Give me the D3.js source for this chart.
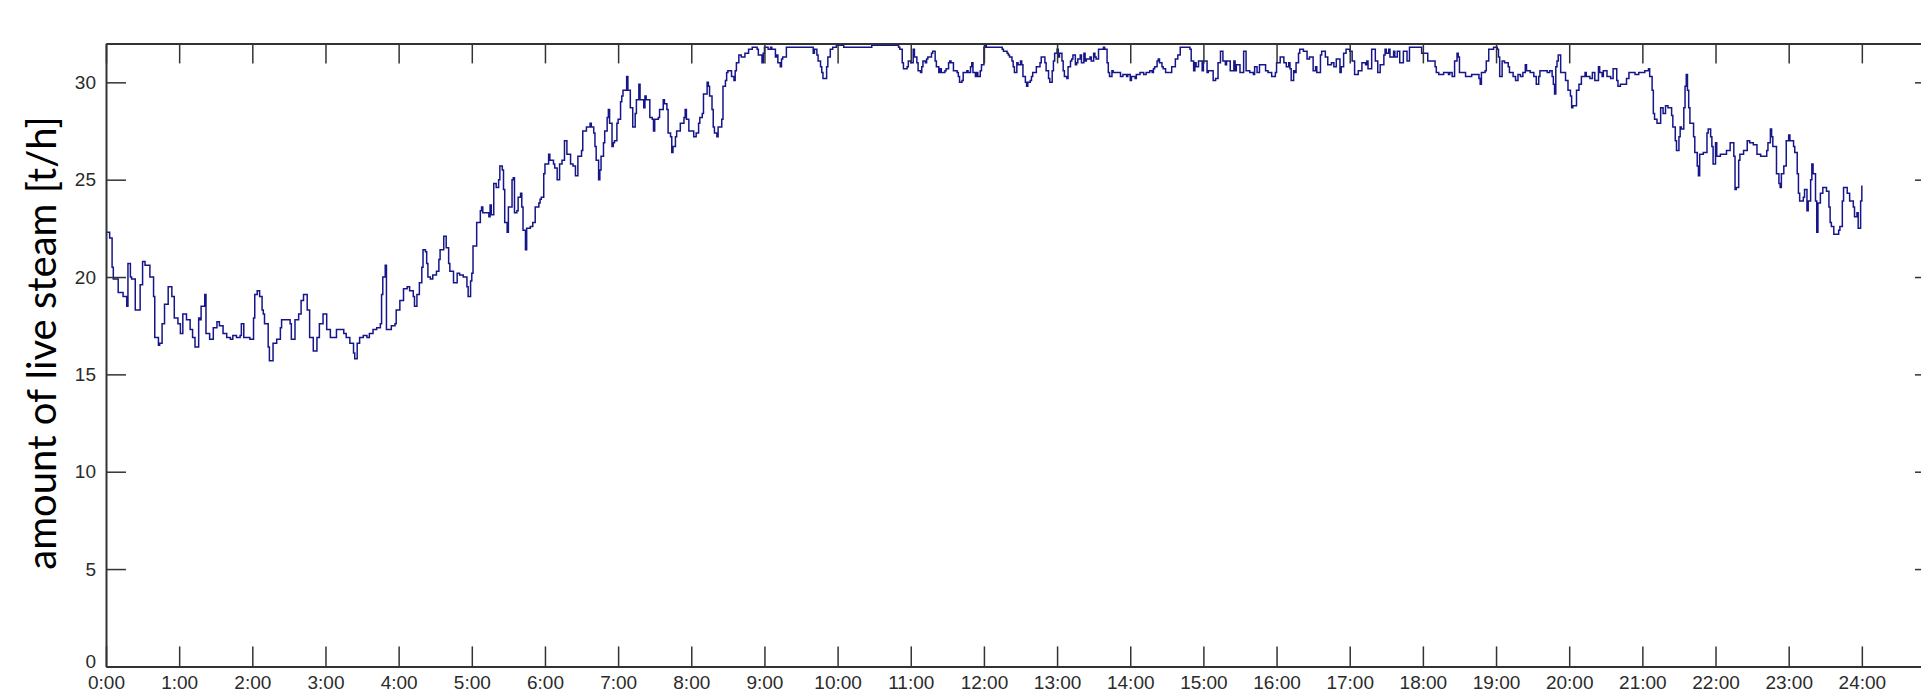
<!DOCTYPE html>
<html>
<head>
<meta charset="utf-8">
<script src="https://cdn.jsdelivr.net/npm/d3@7"></script>
<style>
  html, body { margin: 0; padding: 0; background: #fff; overflow: hidden; }
  svg { display: block; }
  .tick text { font-family: "Liberation Sans", Arial, sans-serif; font-size: 19px; fill: #2a2a2a; }
  .ylabel { font-family: Lato, "Open Sans", sans-serif; font-size: 40px; fill: #000; }
</style>
</head>
<body>
<svg id="chart" width="1921" height="693"></svg>
<script>
// Time of day in minutes after midnight
const minutes = [
  0,1,3,5,6,9,10,14,17,18,20,21,24,25,28,30,32,35,36,39,40,43,44,46,48,51,54,56,59,61,63,66,69,71,73,76,77,78,81,82,85,88,91,93,96,99,
  102,104,107,110,111,113,115,118,121,122,124,126,128,129,130,133,134,137,140,143,144,148,151,152,155,158,160,162,165,167,170,173,175,178,
  181,184,186,189,192,195,197,200,203,204,206,208,211,214,216,219,222,225,226,227,229,230,232,234,237,238,241,244,247,249,252,253,255,257,
  259,260,262,263,264,266,268,271,273,274,277,279,281,282,285,288,
  290,293,296,297,299,300,301,303,304,307,308,309,312,314,315,316,318,320,322,323,325,326,327,329,330,333,334,335,337,338,340,341,342,344,
  345,348,350,352,355,356,357,359,360,363,364,367,368,370,372,374,376,378,381,383,385,387,390,391,394,397,398,400,401,402,404,405,406,408,
  409,411,412,413,415,416,417,419,420,422,423,424,427,428,430,432,434,435,437,438,441,442,443,446,448,449,450,453,454,457,458,460,461,463,
  464,465,467,468,471,474,475,476,478,480,482,484,486,487,489,490,493,494,495,497,498,499,501,502,505,506,508,509,510,513,515,516,517,519,
  521,524,527,530,534,535,538,539,540,543,545,546,549,550,551,553,554,555,558,576,
  580,581,583,584,586,587,588,590,591,592,594,596,599,605,627,628,648,650,651,653,654,657,658,660,662,663,665,666,668,669,670,672,673,674,
  677,678,680,681,683,684,685,688,689,691,692,693,695,698,699,700,702,703,706,707,709,710,711,713,714,715,717,718,720,721,722,733,735,736,
  739,740,741,743,744,745,747,748,750,751,752,754,755,756,758,759,760,763,766,767,769,770,771,773,774,776,777,778,780,781,782,784,785,786,
  788,789,791,792,793,795,796,797,799,800,802,803,804,807,808,810,811,812,814,815,818,819,821,822,823,825,826,827,829,830,832,834,837,838,
  840,841,844,845,848,851,853,855,856,858,859,860,862,863,864,866,867,869,871,
  874,877,879,881,886,889,890,892,893,894,896,899,900,903,904,908,910,912,914,916,918,919,922,925,926,927,930,933,935,938,941,942,944,946,
  951,953,956,959,960,963,966,968,970,971,972,974,975,976,978,979,982,985,987,990,992,993,996,997,1000,1002,1005,1007,1009,1012,1013,1015,
  1017,1019,1020,1022,1024,1027,1030,1033,1034,1035,1038,1041,1043,1045,1048,1049,1050,1052,1053,1056,1057,1059,1061,1064,1067,1069,1076,
  1079,1082,1084,1087,1090,1091,1093,1097,1101,1102,1104,1106,1108,1109,1110,1115,1120,1126,1127,1128,1131,1132,1134,1138,1141,1142,1143,
  1145,1147,1150,1151,1154,1156,1158,1160,1162,1164,
  1165,1168,1171,1173,1175,1176,1179,1182,1184,1186,1187,1188,1189,1190,1191,1193,1194,1197,1199,1201,1202,1203,1206,1208,1210,1213,1214,
  1217,1219,1221,1224,1225,1227,1228,1231,1234,1236,1239,1240,1242,1244,1247,1249,1251,1254,1257,1260,1262,1265,1266,1268,1269,1270,1272,
  1275,1277,1279,1281,1284,1285,1287,1288,1290,1291,1292,1294,1295,1296,1297,1298,1299,1302,1303,1305,1306,1307,1310,1313,1314,1316,1317,
  1318,1320,1321,1324,1329,1332,1335,1336,1337,1339,1340,1343,1346,1348,1351,1354,1357,1359,1362,1363,1365,1366,1367,1370,1372,1373,1374,
  1376,1378,1380,1381,1384,1385,1387,1388,1389,1392,1393,1395,1396,1398,1399,1400,1402,1403,1404,1406,1408,1411,1413,1414,1415,1417,1421,
  1422,1424,1425,1428,1430,1433,1434,1436,1437,1439,1440
];

// Live steam flow [t/h] at each time above
const steam = [
  22.3,22.3,22.0,20.5,19.9,19.9,19.2,19.0,18.5,20.7,20.0,19.9,18.3,18.3,19.6,20.8,20.6,20.6,20.0,19.0,16.9,16.5,16.6,17.6,18.6,19.5,19.0,17.9,17.6,17.1,18.1,17.8,17.3,16.9,16.4,17.9,17.8,18.5,19.1,17.1,16.8,17.4,17.7,17.5,17.1,16.9,
  16.8,17.0,16.9,17.0,17.6,16.9,16.9,16.8,17.9,19.1,19.3,19.0,18.3,18.1,17.6,16.4,15.7,16.6,16.8,17.4,17.8,17.8,17.6,16.8,17.8,18.1,18.8,19.1,18.3,16.9,16.2,16.9,17.6,18.1,
  17.3,16.9,16.9,17.3,17.3,17.1,16.9,16.6,16.1,15.8,16.6,16.9,17.0,16.9,17.1,17.3,17.4,17.6,19.1,20.0,20.6,17.3,17.3,17.5,17.6,18.3,18.8,19.4,19.5,19.3,19.0,18.5,19.1,19.7,
  20.5,21.4,21.3,20.7,20.0,19.9,20.1,20.3,20.9,21.4,22.1,21.5,20.7,20.3,19.7,20.2,
  20.1,20.0,19.5,19.0,19.8,20.2,21.6,21.6,22.8,23.4,23.6,23.3,23.3,23.1,23.7,23.2,24.8,24.6,25.0,25.7,25.5,24.5,22.8,22.3,23.6,25.0,25.1,23.3,23.4,24.1,24.3,23.6,22.4,21.4,
  22.5,22.6,22.8,23.6,23.8,24.0,24.1,25.3,25.8,26.3,26.0,25.8,25.6,25.0,25.8,26.0,27.0,26.3,25.8,25.7,25.2,26.2,26.5,27.5,27.7,27.9,27.7,27.4,26.7,26.0,25.0,25.5,26.2,26.9,
  27.5,28.2,28.6,27.9,26.7,26.9,27.0,27.9,28.1,29.0,29.3,29.6,30.3,29.6,28.7,27.7,28.4,29.1,29.9,29.1,28.7,29.3,29.1,28.2,28.1,27.5,28.1,28.2,28.6,29.1,28.9,28.6,27.4,27.2,
  26.4,26.7,27.2,27.5,27.9,28.2,28.6,28.1,27.5,27.5,27.2,27.4,27.9,28.2,28.4,29.4,30.0,29.8,29.3,28.6,27.7,27.4,27.2,27.7,28.1,29.8,30.1,30.5,30.6,30.3,30.1,30.6,31.0,31.4,
  31.3,31.5,31.7,31.8,31.7,31.4,31.0,31.5,31.8,31.7,31.8,31.7,31.3,31.4,31.0,30.8,31.2,31.3,31.8,31.8,
  31.5,31.7,31.4,31.1,30.8,30.5,30.2,30.2,30.8,31.3,31.7,31.8,31.9,31.8,31.8,31.9,31.9,31.8,31.7,31.0,30.7,30.8,31.1,31.0,31.7,31.3,31.0,30.6,30.5,30.8,31.1,31.0,31.2,31.3,
  31.5,31.6,31.1,30.8,30.5,30.7,30.5,30.6,30.7,31.0,31.1,31.0,30.6,30.5,30.3,30.0,30.1,30.5,30.6,30.5,30.8,31.0,30.5,30.3,30.5,30.3,30.6,30.9,31.8,31.9,31.8,31.8,31.7,31.6,
  31.5,31.4,31.3,31.1,30.8,30.5,31.0,30.9,31.1,30.9,30.3,30.0,29.8,30.0,30.1,30.3,30.5,30.8,31.0,31.3,31.3,31.0,30.6,30.2,30.0,30.6,31.1,31.5,31.7,31.3,31.5,31.1,30.6,30.3,
  30.2,30.8,31.1,31.2,31.4,30.9,31.0,31.2,31.4,31.0,31.5,31.1,31.2,31.3,31.1,31.5,31.3,31.2,31.7,31.7,31.8,31.7,31.0,30.5,30.3,30.6,30.5,30.5,30.5,30.5,30.3,30.4,30.3,30.4,
  30.1,30.3,30.2,30.4,30.5,30.4,30.5,30.5,30.6,30.5,30.7,30.8,31.1,31.2,31.0,30.8,30.7,30.5,30.5,
  30.8,31.2,31.4,31.8,31.8,31.7,31.1,30.6,31.0,30.8,31.1,30.6,31.1,30.5,30.6,30.1,30.2,31.0,31.6,31.1,30.9,31.1,30.6,31.1,30.6,30.9,30.5,31.6,30.6,30.5,30.4,30.8,30.5,30.9,
  30.6,30.5,30.3,30.5,31.0,31.3,31.0,30.8,31.0,30.7,30.1,30.6,30.5,31.0,31.5,31.7,31.6,31.2,31.3,30.6,30.8,30.5,31.4,31.6,31.3,30.9,31.0,30.8,31.2,30.5,30.8,31.5,
  31.7,31.7,31.6,31.1,30.4,30.6,31.0,30.9,31.1,30.7,31.7,31.1,30.5,30.9,31.4,31.7,31.5,31.7,31.3,31.6,31.3,31.6,31.0,31.6,31.1,31.8,31.8,
  31.5,31.5,31.1,31.1,30.8,30.5,30.4,30.5,30.4,30.5,30.3,31.1,31.5,31.3,30.5,30.3,30.4,30.2,29.9,30.5,30.6,31.1,31.7,31.8,31.7,31.3,30.3,
  31.1,31.0,30.8,30.5,30.3,30.1,30.4,30.3,30.5,30.9,
  30.6,30.5,30.3,29.9,30.3,30.6,30.6,30.5,30.6,30.3,29.9,29.4,30.8,31.1,31.4,30.5,30.5,30.1,29.6,29.3,28.7,28.8,29.6,29.9,30.3,30.5,30.3,
  30.2,30.5,30.1,30.8,30.5,30.3,30.6,30.3,30.2,30.7,30.1,29.8,29.9,29.9,30.2,30.5,30.5,30.4,30.5,30.5,30.6,30.7,30.3,29.6,28.4,28.1,27.9,
  28.7,28.4,28.8,28.7,28.3,27.7,27.0,26.5,27.2,27.7,27.6,28.7,29.8,30.4,29.6,28.7,27.9,27.2,26.4,25.7,25.2,26.3,26.4,27.4,27.6,27.2,26.7,
  25.8,26.9,26.2,26.3,26.5,26.9,26.2,24.5,24.6,26.0,26.3,26.5,27.0,26.9,26.8,26.3,26.2,26.2,26.5,26.9,27.6,27.2,26.7,25.3,24.8,24.6,25.3,
  25.7,27.0,27.3,27.0,26.7,26.4,25.3,24.3,23.9,24.1,24.5,23.4,23.9,25.0,25.8,25.3,23.9,22.3,23.8,24.3,24.6,24.4,23.6,22.8,22.6,22.2,22.4,
  22.6,23.9,24.6,24.3,23.9,23.6,23.1,23.3,22.5,23.9,24.7
];

// Axis ticks and their labels
const hourTicks = [0,1,2,3,4,5,6,7,8,9,10,11,12,13,14,15,16,17,18,19,20,21,22,23,24];
const hourLabels = ["0:00","1:00","2:00","3:00","4:00","5:00","6:00","7:00","8:00","9:00","10:00","11:00","12:00",
                    "13:00","14:00","15:00","16:00","17:00","18:00","19:00","20:00","21:00","22:00","23:00","24:00"];
const steamTicks = [0,5,10,15,20,25,30];
const steamLabels = ["0","5","10","15","20","25","30"];
const yTitle = "amount of live steam [t/h]";

const frame = { left: 106, right: 1935, top: 43.4, bottom: 666.4 };
const tickLen = 20;

const x = d3.scaleLinear().domain([0, 25 * 60]).range([frame.left, frame.right]);
const y = d3.scaleLinear().domain([0, 32]).range([frame.bottom, frame.top]);

const svg = d3.select("#chart");

const series = minutes.map((m, i) => ({ t: m, v: steam[i] }));

// flow trace, drawn as held samples
svg.append("path")
  .datum(series)
  .attr("fill", "none")
  .attr("stroke", "#16168a")
  .attr("stroke-width", 1.5)
  .attr("d", d3.line().curve(d3.curveStepAfter).x(d => x(d.t)).y(d => y(d.v)));

const hourPos = hourTicks.map(h => h * 60);

// bottom axis with hour labels
svg.append("g")
  .attr("transform", `translate(0,${frame.bottom})`)
  .call(d3.axisBottom(x).tickValues(hourPos).tickFormat((d, i) => hourLabels[i])
    .tickSizeInner(-tickLen).tickSizeOuter(0).tickPadding(9));

// top axis, ticks only
svg.append("g")
  .attr("transform", `translate(0,${frame.top})`)
  .call(d3.axisTop(x).tickValues(hourPos).tickFormat(() => "")
    .tickSizeInner(-tickLen).tickSizeOuter(0));

// left axis with values
const leftAxis = svg.append("g")
  .attr("transform", `translate(${frame.left},0)`)
  .call(d3.axisLeft(y).tickValues(steamTicks).tickFormat((d, i) => steamLabels[i])
    .tickSizeInner(-tickLen).tickSizeOuter(0).tickPadding(10));

// lift the zero label a little so it clears the 0:00 label below it
leftAxis.selectAll(".tick text").filter(d => d === 0).attr("dy", "0.06em");

// right axis, ticks only
svg.append("g")
  .attr("transform", `translate(${frame.right},0)`)
  .call(d3.axisRight(y).tickValues(steamTicks).tickFormat(() => "")
    .tickSizeInner(-tickLen).tickSizeOuter(0));

svg.selectAll(".domain").attr("stroke", "#333").attr("stroke-width", 2);
svg.selectAll(".tick line").attr("stroke", "#333").attr("stroke-width", 1.5);

// vertical axis title
svg.append("text")
  .attr("class", "ylabel")
  .attr("text-anchor", "middle")
  .attr("transform", "translate(56,343) rotate(-90)")
  .text(yTitle);
</script>
</body>
</html>
